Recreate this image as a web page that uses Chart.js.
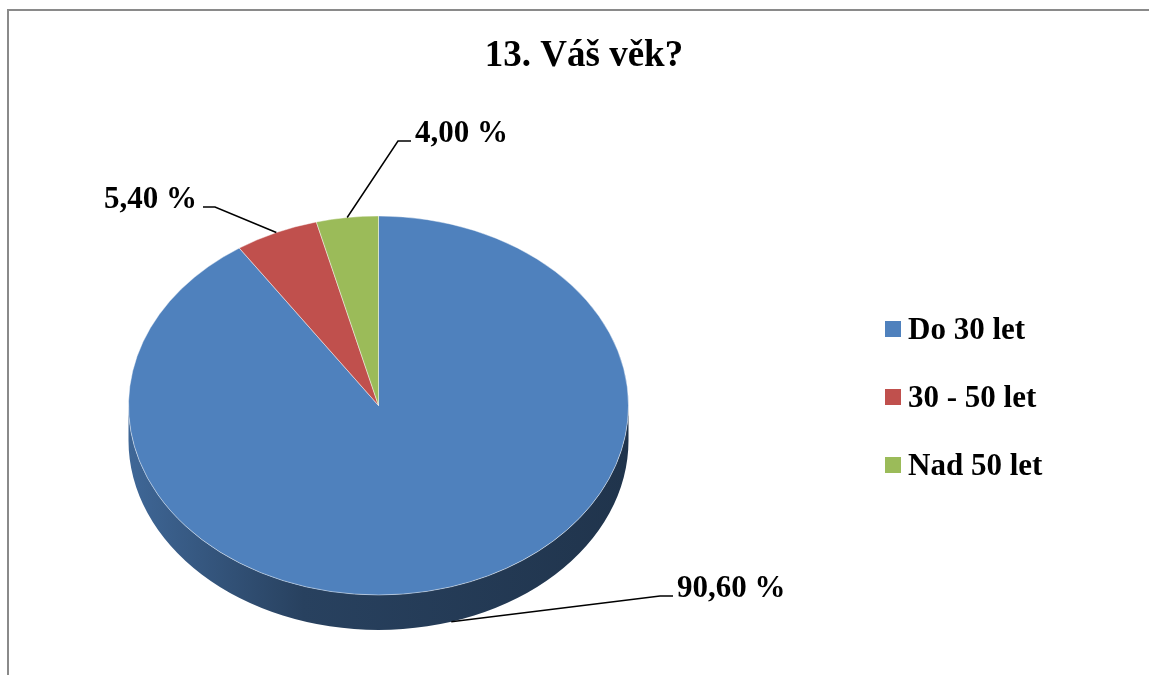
<!DOCTYPE html>
<html>
<head>
<meta charset="utf-8">
<script src="https://cdn.jsdelivr.net/npm/chart.js@4.4.1/dist/chart.umd.min.js"></script>
<style>
  body { margin: 0; background: #fff; }
  #wrap { position: relative; width: 1149px; height: 675px; }
  #frame { position: absolute; left: 7px; top: 9px; width: 1160px; height: 700px;
           border: 2px solid #8a8a8a; box-sizing: border-box; }
  canvas { position: absolute; left: 0; top: 0; }
</style>
</head>
<body>
<div id="wrap">
  <div id="frame"></div>
  <canvas id="ageChart" width="1149" height="675"></canvas>
</div>
<script>
const chartTitle = '13. Váš věk?';
const categories = ['Do 30 let', '30 - 50 let', 'Nad 50 let'];
const shares = [90.6, 5.4, 4.0];
const colors = ['#4F81BD', '#C0504D', '#9BBB59'];

const TILT = 0.758;   // vertical squash of the pie top
const DEPTH = 35;     // thickness of the pie side
const FONT = '"Liberation Serif", "Times New Roman", serif';

// leader line elbows (layout only)
const labelLayout = [
  { elbow: [660, 596], end: [673, 596], align: 'left' },
  { elbow: [215, 207], end: [203, 207], align: 'right' },
  { elbow: [398, 141], end: [411, 141], align: 'left' }
];

function shade(hex, f) {
  const n = parseInt(hex.slice(1), 16);
  const r = Math.round(((n >> 16) & 255) * f);
  const g = Math.round(((n >> 8) & 255) * f);
  const b = Math.round((n & 255) * f);
  return `rgb(${r},${g},${b})`;
}

function fmt(v) {
  return v.toFixed(2).replace('.', ',') + ' %';
}

const pie3d = {
  id: 'pie3d',
  beforeDatasetsDraw(chart) {
    const ctx = chart.ctx;
    const arcs = chart.getDatasetMeta(0).data;
    const cx = arcs[0].x, cy = arcs[0].y, r = arcs[0].outerRadius;
    const ry = r * TILT;

    // side walls for the front half of the pie
    arcs.forEach((arc, i) => {
      [-2 * Math.PI, 0, 2 * Math.PI].forEach(off => {
        const s = Math.max(arc.startAngle, off);
        const e = Math.min(arc.endAngle, off + Math.PI);
        if (e <= s) return;
        const grad = ctx.createLinearGradient(cx - r, 0, cx + r, 0);
        grad.addColorStop(0, shade(colors[i], 0.8));
        grad.addColorStop(0.35, shade(colors[i], 0.5));
        grad.addColorStop(1, shade(colors[i], 0.4));
        ctx.save();
        ctx.beginPath();
        ctx.ellipse(cx, cy, r, ry, 0, s, e);
        ctx.ellipse(cx, cy + DEPTH, r, ry, 0, e, s, true);
        ctx.closePath();
        ctx.fillStyle = grad;
        ctx.fill();
        ctx.restore();
      });
    });

    ctx.save();
    ctx.translate(cx, cy);
    ctx.scale(1, TILT);
    ctx.translate(-cx, -cy);
  },
  afterDatasetsDraw(chart) {
    const ctx = chart.ctx;
    ctx.restore();

    const arcs = chart.getDatasetMeta(0).data;
    const cx = arcs[0].x, cy = arcs[0].y, r = arcs[0].outerRadius;
    const ry = r * TILT;

    // data labels with leader lines
    ctx.save();
    ctx.font = 'bold 31px ' + FONT;
    ctx.fillStyle = '#000';
    ctx.strokeStyle = '#000';
    ctx.lineWidth = 1.5;
    arcs.forEach((arc, i) => {
      const mid = (arc.startAngle + arc.endAngle) / 2;
      const px = cx + r * Math.cos(mid);
      const py = cy + ry * Math.sin(mid) + (Math.sin(mid) > 0 ? DEPTH : 0);
      const L = labelLayout[i];
      ctx.beginPath();
      ctx.moveTo(px, py);
      ctx.lineTo(L.elbow[0], L.elbow[1]);
      ctx.lineTo(L.end[0], L.end[1]);
      ctx.stroke();
      ctx.textAlign = L.align;
      ctx.textBaseline = 'alphabetic';
      const tx = L.align === 'left' ? L.end[0] + 4 : L.end[0] - 6;
      ctx.fillText(fmt(shares[i]), tx, L.end[1] + 1);
    });

    // title
    ctx.textAlign = 'center';
    ctx.font = 'bold 37px ' + FONT;
    ctx.fillText(chartTitle, 584, 66);

    // legend
    ctx.textAlign = 'left';
    ctx.font = 'bold 31px ' + FONT;
    categories.forEach((c, i) => {
      const y = 321 + i * 68;
      ctx.fillStyle = colors[i];
      ctx.fillRect(885, y, 16, 16);
      ctx.fillStyle = '#000';
      ctx.fillText(c, 908, y + 18);
    });
    ctx.restore();
  }
};

new Chart(document.getElementById('ageChart'), {
  type: 'pie',
  data: {
    labels: categories,
    datasets: [{
      data: shares,
      backgroundColor: colors,
      borderColor: 'rgba(255,255,255,0.5)',
      borderWidth: 1
    }]
  },
  options: {
    responsive: false,
    animation: false,
    layout: { padding: { left: 128, right: 520, top: 155, bottom: 19 } },
    plugins: {
      legend: { display: false },
      tooltip: { enabled: false }
    }
  },
  plugins: [pie3d]
});
</script>
</body>
</html>
